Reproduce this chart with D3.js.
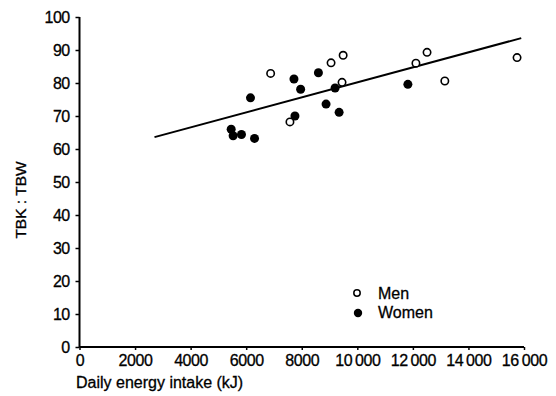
<!DOCTYPE html>
<html>
<head>
<meta charset="utf-8">
<script src="https://cdnjs.cloudflare.com/ajax/libs/d3/7.8.5/d3.min.js"></script>
<style>
  body { margin: 0; background: #fff; }
  text { font-family: "Liberation Sans", Arial, sans-serif; fill: #000; stroke: #000; stroke-width: 0.3px; }
</style>
</head>
<body>
<div id="chart"></div>
<script>
// energy intake (kJ) and TBK:TBW ratio
const menX = [6880, 7575, 9055, 9490, 9450, 12110, 12510, 13150, 15750];
const menY = [82.9, 68.2, 86.1, 88.4, 80.2, 86.0, 89.3, 80.6, 87.7];
const womenX = [6155, 5460, 5530, 5830, 6300, 7720, 7960, 7755, 8600, 8875, 9200, 9345, 11820];
const womenY = [75.5, 66.0, 64.0, 64.4, 63.2, 81.2, 78.1, 70.0, 83.1, 73.6, 78.5, 71.1, 79.6];
// regression line end points
const fitX = [2700, 15900];
const fitY = [63.6, 93.6];

const xTicks = [0, 2000, 4000, 6000, 8000, 10000, 12000, 14000, 16000];
const yTicks = [0, 10, 20, 30, 40, 50, 60, 70, 80, 90, 100];

const W = 556, H = 396;
const margin = {top: 17, right: 32, bottom: 49, left: 79.5};

const svg = d3.select("#chart").append("svg")
  .attr("width", W).attr("height", H);

const x = d3.scaleLinear().domain([0, 16000]).range([margin.left, W - margin.right]);
const y = d3.scaleLinear().domain([0, 100]).range([H - margin.bottom, margin.top]);

const fmtX = d => d >= 10000 ? String(d).slice(0, 2) + "\u2009" + String(d).slice(2) : String(d);

// x axis
const gx = svg.append("g")
  .attr("transform", `translate(0,${y(0)})`)
  .call(d3.axisBottom(x).tickValues(xTicks).tickSize(3).tickPadding(5).tickFormat(fmtX));
gx.select(".domain").attr("stroke-width", 2).attr("d", `M${x(0)},0H${x(16000)}`);
gx.selectAll(".tick line").attr("stroke-width", 1.5);
gx.selectAll("text").style("font-size", "16px").style("letter-spacing", "-0.4px").attr("fill", "#000");

// y axis
const gy = svg.append("g")
  .attr("transform", `translate(${x(0)},0)`)
  .call(d3.axisLeft(y).tickValues(yTicks).tickSize(4).tickPadding(6));
gy.select(".domain").attr("stroke-width", 2).attr("d", `M0,${y(100)}V${y(0)}`);
gy.selectAll(".tick line").attr("stroke-width", 1.5);
gy.selectAll("text").style("font-size", "16px").style("letter-spacing", "-0.6px").attr("fill", "#000");

// axis titles
svg.append("text")
  .attr("x", 76).attr("y", 388)
  .style("font-size", "16px")
  .text("Daily energy intake (kJ)");

svg.append("text")
  .attr("transform", "rotate(-90)")
  .attr("x", -200).attr("y", 26)
  .attr("text-anchor", "middle")
  .style("font-size", "15.5px")
  .text("TBK : TBW");

// fitted line
svg.append("line")
  .attr("x1", x(fitX[0])).attr("y1", y(fitY[0]))
  .attr("x2", x(fitX[1])).attr("y2", y(fitY[1]))
  .attr("stroke", "#000").attr("stroke-width", 2);

// points
svg.append("g").selectAll("circle")
  .data(womenX.map((v, i) => [v, womenY[i]]))
  .join("circle")
  .attr("cx", d => x(d[0])).attr("cy", d => y(d[1]))
  .attr("r", 4.5).attr("fill", "#000");

svg.append("g").selectAll("circle")
  .data(menX.map((v, i) => [v, menY[i]]))
  .join("circle")
  .attr("cx", d => x(d[0])).attr("cy", d => y(d[1]))
  .attr("r", 3.7).attr("fill", "#fff").attr("stroke", "#000").attr("stroke-width", 1.6);

// legend
const legend = svg.append("g");
legend.append("circle").attr("cx", 357).attr("cy", 293).attr("r", 3.2)
  .attr("fill", "#fff").attr("stroke", "#000").attr("stroke-width", 1.5);
legend.append("circle").attr("cx", 358).attr("cy", 313).attr("r", 4.2).attr("fill", "#000");
legend.append("text").attr("x", 378).attr("y", 299).style("font-size", "16px").text("Men");
legend.append("text").attr("x", 378).attr("y", 318).style("font-size", "16px").text("Women");
</script>
</body>
</html>
